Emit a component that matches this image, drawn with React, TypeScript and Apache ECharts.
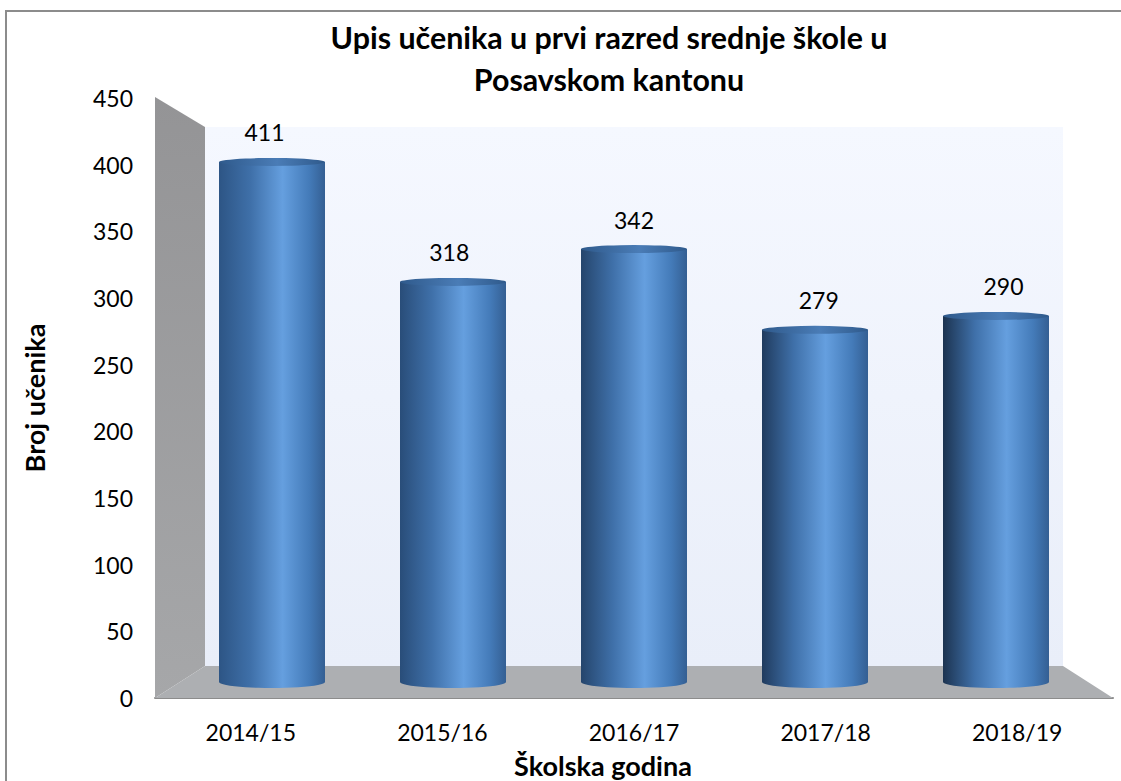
import React, { useEffect, useRef } from "react";
import * as echarts from "echarts";

const titleLines = ["Upis učenika u prvi razred srednje škole u", "Posavskom kantonu"];
const categories = ["2014/15", "2015/16", "2016/17", "2017/18", "2018/19"];
const enrolment = [411, 318, 342, 279, 290];
const barHeightValues = [412, 317, 343, 279, 290];
const yTicks = { min: 0, max: 450, interval: 50 };
const xTitle = "Školska godina";
const yTitle = "Broj učenika";
const edgeDark = ["#2d5585", "#294d79", "#25456c", "#203b5e", "#1c3350"];
const FONT = "Lato, Carlito, 'Open Sans', sans-serif";

function cylinderFill(i: number) {
  return new echarts.graphic.LinearGradient(0, 0, 1, 0, [
    { offset: 0, color: edgeDark[i] },
    { offset: 0.3, color: "#3f70a9" },
    { offset: 0.6, color: "#659fdf" },
    { offset: 0.85, color: "#447bb9" },
    { offset: 1, color: "#345f93" },
  ]);
}

export default function App() {
  const ref = useRef<HTMLDivElement>(null);
  useEffect(() => {
    const chart = echarts.init(ref.current!, undefined, { renderer: "svg" });
    chart.setOption({
      animation: false,
      backgroundColor: "#ffffff",
      title: {
        text: titleLines.join("\n"),
        left: 604,
        top: 11,
        textAlign: "center",
        textStyle: { fontFamily: FONT, fontSize: 30.4, fontWeight: "bold", color: "#000", lineHeight: 42 },
      },
      graphic: [
        { type: "polyline", z: 0, shape: { points: [[6, 781], [6, 11], [1121, 11]] }, style: { stroke: "#8c8c8c", lineWidth: 2, fill: "none" } },
        {
          type: "rect", z: 0, shape: { x: 205, y: 127, width: 858, height: 539 },
          style: { fill: new echarts.graphic.LinearGradient(0, 0, 0, 1, [{ offset: 0, color: "#f5f8ff" }, { offset: 1, color: "#e9eef9" }]) },
        },
        {
          type: "polygon", z: 1, shape: { points: [[155, 97], [205, 127], [205, 666], [155, 698]] },
          style: { fill: new echarts.graphic.LinearGradient(0, 0, 0, 1, [{ offset: 0, color: "#949496" }, { offset: 1, color: "#a6a7a9" }]) },
        },
        { type: "polygon", z: 1, shape: { points: [[205, 666], [1063, 666], [1113, 698], [155, 698]] }, style: { fill: "#adafb2" } },
      ],
      grid: [
        { left: 155, top: 98, width: 958, height: 600, outerBoundsMode: "none" },
        { left: 181.5, top: 114, width: 905, height: 568, outerBoundsMode: "none" },
      ],
      xAxis: [
        {
          type: "category", gridIndex: 0, data: categories,
          axisLine: { show: true, lineStyle: { color: "#8c8c8c", width: 2 } },
          axisTick: { show: false },
          axisLabel: { fontFamily: FONT, fontSize: 23, color: "#000", margin: 22 },
          name: xTitle, nameLocation: "middle", nameGap: 54,
          nameTextStyle: { fontFamily: FONT, fontSize: 27, fontWeight: "bold", color: "#000", padding: [0, 62, 0, 0] },
        },
        { type: "category", gridIndex: 1, data: categories, show: false },
      ],
      yAxis: [
        {
          type: "value", gridIndex: 0, ...yTicks,
          axisLine: { show: false }, axisTick: { show: false }, splitLine: { show: false },
          axisLabel: { fontFamily: FONT, fontSize: 23, color: "#000", margin: 22 },
          name: yTitle, nameLocation: "middle", nameGap: 107,
          nameTextStyle: { fontFamily: FONT, fontSize: 27, fontWeight: "bold", color: "#000" },
        },
        { type: "value", gridIndex: 1, ...yTicks, show: false },
      ],
      series: [
        {
          type: "pictorialBar", xAxisIndex: 1, yAxisIndex: 1, z: 3,
          symbol: "circle", symbolSize: [106, 12], symbolPosition: "start", symbolOffset: [0, "50%"],
          data: barHeightValues.map((v, i) => ({ value: v, itemStyle: { color: cylinderFill(i) } })),
        },
        {
          type: "bar", xAxisIndex: 1, yAxisIndex: 1, z: 4, barWidth: 106,
          data: barHeightValues.map((v, i) => ({
            value: v,
            itemStyle: { color: cylinderFill(i) },
            label: {
              show: true, position: "top", distance: 18, formatter: String(enrolment[i]),
              offset: [(i - 2) * 3.75, 0],
              fontFamily: FONT, fontSize: 23, color: "#000",
            },
          })),
        },
        {
          type: "pictorialBar", xAxisIndex: 1, yAxisIndex: 1, z: 5,
          symbol: "circle", symbolSize: [106, 8], symbolPosition: "end", symbolOffset: [0, "-50%"],
          itemStyle: { color: new echarts.graphic.LinearGradient(0, 0, 1, 0, [
            { offset: 0, color: "#2f5a8c" }, { offset: 0.55, color: "#4a7cb6" }, { offset: 1, color: "#2f5a8c" },
          ]) },
          data: barHeightValues,
        },
      ],
    });
    return () => chart.dispose();
  }, []);
  return <div ref={ref} style={{ position: "absolute", left: 0, top: 0, width: 1121, height: 781 }} />;
}
